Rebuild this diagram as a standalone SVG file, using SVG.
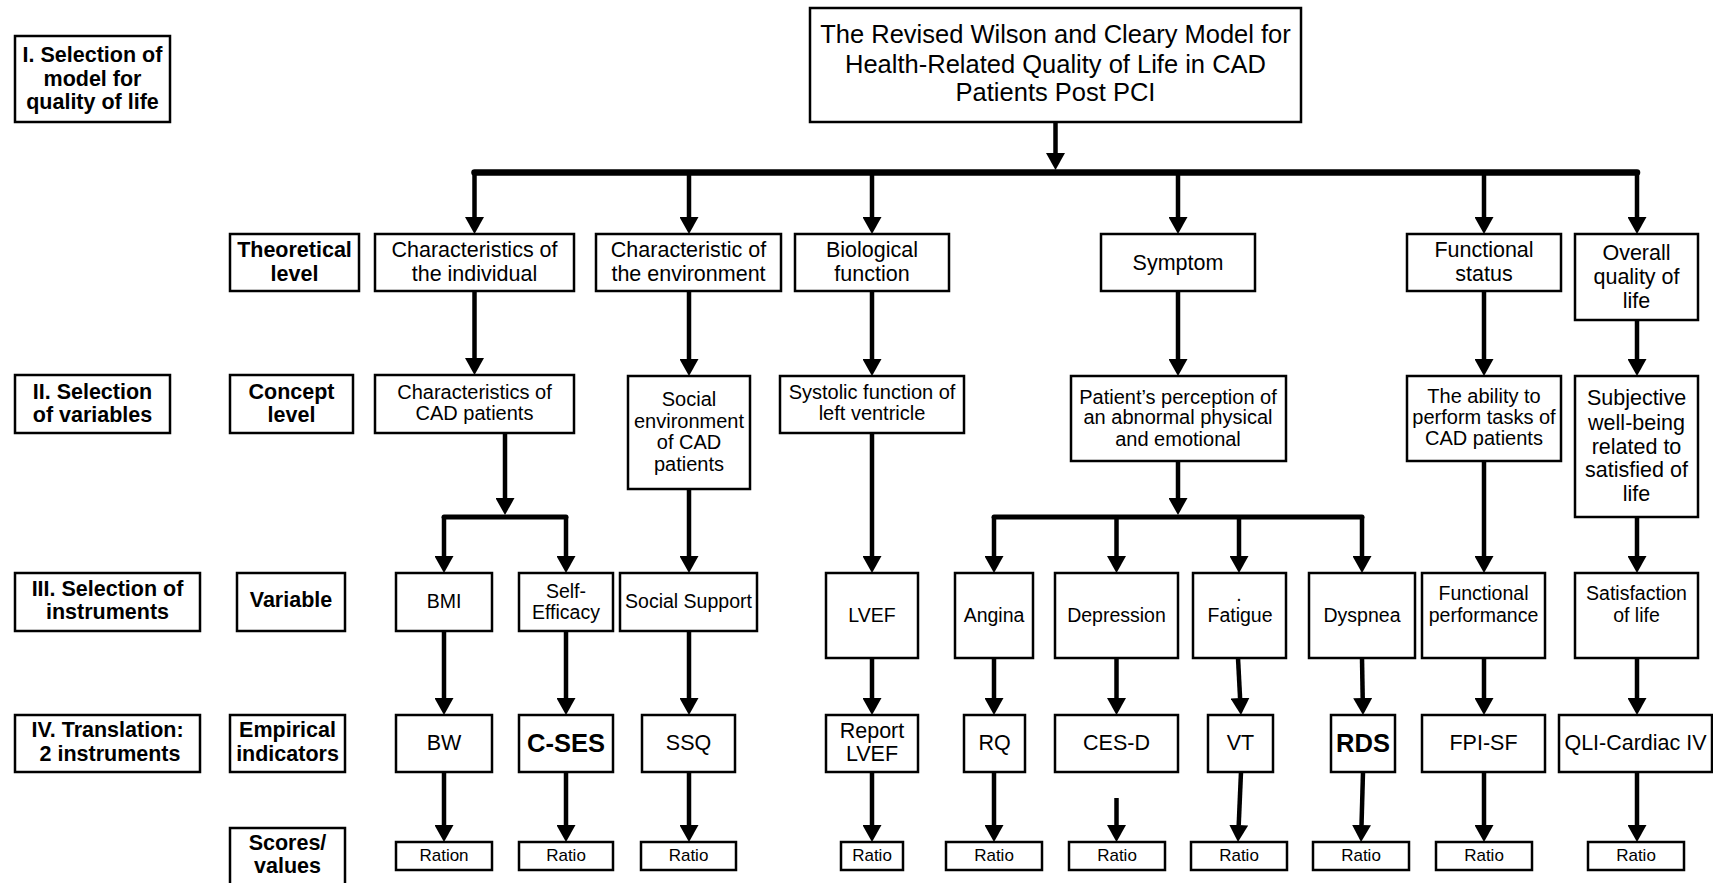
<svg xmlns="http://www.w3.org/2000/svg" width="1713" height="883" viewBox="0 0 1713 883">
  <style>
    .box { fill: #fff; stroke: #000; stroke-width: 2.5; }
    text { font-family: "Liberation Sans", Arial, sans-serif; fill: #000; text-anchor: middle; }
    .lab { font-weight: bold; font-size: 21.5px; }
    .t1 { font-size: 21.5px; }
    .t2 { font-size: 20px; }
    .t3 { font-size: 19.5px; }
    .t4 { font-size: 21.5px; }
    .t4b { font-size: 25.5px; font-weight: bold; }
    .t5 { font-size: 17px; }
    .title { font-size: 25.5px; }
    .arr { fill: none; stroke: #000; stroke-width: 4.5; marker-end: url(#ah); }
    .bar { fill: none; stroke: #000; stroke-width: 5; stroke-linecap: round; }
    .bus { fill: none; stroke: #000; stroke-width: 6.5; stroke-linecap: round; }
  </style>
  <defs>
    <marker id="ah" markerUnits="userSpaceOnUse" markerWidth="17" markerHeight="19" viewBox="0 0 17 19" refX="0.5" refY="9.5" orient="auto">
      <path d="M0,0 L17,9.5 L0,19 Z" fill="#000"/>
    </marker>
  </defs>

  <!-- Row labels -->
  <g id="label-model">
    <rect class="box" x="15" y="36" width="155" height="86"/>
    <text class="lab" x="92.5" y="62">I. Selection of</text>
    <text class="lab" x="92.5" y="85.5">model for</text>
    <text class="lab" x="92.5" y="109">quality of life</text>
  </g>
  <g id="label-theoretical">
    <rect class="box" x="230" y="234" width="129" height="57"/>
    <text class="lab" x="294.5" y="257">Theoretical</text>
    <text class="lab" x="294.5" y="281">level</text>
  </g>
  <g id="label-variables">
    <rect class="box" x="15" y="375" width="155" height="58"/>
    <text class="lab" x="92.5" y="398.5">II. Selection</text>
    <text class="lab" x="92.5" y="422">of variables</text>
  </g>
  <g id="label-concept">
    <rect class="box" x="230" y="375" width="123" height="58"/>
    <text class="lab" x="291.5" y="398.5">Concept</text>
    <text class="lab" x="291.5" y="422">level</text>
  </g>
  <g id="label-instruments">
    <rect class="box" x="15" y="573" width="185" height="58"/>
    <text class="lab" x="107.5" y="596">III. Selection of</text>
    <text class="lab" x="107.5" y="619">instruments</text>
  </g>
  <g id="label-variable">
    <rect class="box" x="237" y="573" width="108" height="58"/>
    <text class="lab" x="291" y="607">Variable</text>
  </g>
  <g id="label-translation">
    <rect class="box" x="15" y="715" width="185" height="57"/>
    <text class="lab" x="107.5" y="737">IV. Translation:</text>
    <text class="lab" x="110" y="761">2 instruments</text>
  </g>
  <g id="label-empirical">
    <rect class="box" x="230" y="715" width="115" height="57"/>
    <text class="lab" x="287.5" y="737">Empirical</text>
    <text class="lab" x="287.5" y="761">indicators</text>
  </g>
  <g id="label-scores">
    <rect class="box" x="230" y="828" width="115" height="64"/>
    <text class="lab" x="287.5" y="850">Scores/</text>
    <text class="lab" x="287.5" y="873">values</text>
  </g>

  <!-- Model -->
  <g id="model">
    <rect class="box" x="810" y="8" width="491" height="114"/>
    <text class="title" x="1055.5" y="43">The Revised Wilson and Cleary Model for</text>
    <text class="title" x="1055.5" y="72.5">Health-Related Quality of Life in CAD</text>
    <text class="title" x="1055.5" y="101">Patients Post PCI</text>
  </g>

  <!-- Theoretical level -->
  <g id="individual">
    <rect class="box" x="375" y="234" width="199" height="57"/>
    <text class="t1" x="474.5" y="257">Characteristics of</text>
    <text class="t1" x="474.5" y="281">the individual</text>
  </g>
  <g id="environment">
    <rect class="box" x="596" y="234" width="185" height="57"/>
    <text class="t1" x="688.5" y="257">Characteristic of</text>
    <text class="t1" x="688.5" y="281">the environment</text>
  </g>
  <g id="biological">
    <rect class="box" x="795" y="234" width="154" height="57"/>
    <text class="t1" x="872" y="257">Biological</text>
    <text class="t1" x="872" y="281">function</text>
  </g>
  <g id="symptom">
    <rect class="box" x="1101" y="234" width="154" height="57"/>
    <text class="t1" x="1178" y="270">Symptom</text>
  </g>
  <g id="functional">
    <rect class="box" x="1407" y="234" width="154" height="57"/>
    <text class="t1" x="1484" y="257">Functional</text>
    <text class="t1" x="1484" y="281">status</text>
  </g>
  <g id="overall">
    <rect class="box" x="1575" y="234" width="123" height="86"/>
    <text class="t1" x="1636.5" y="260">Overall</text>
    <text class="t1" x="1636.5" y="284">quality of</text>
    <text class="t1" x="1636.5" y="308">life</text>
  </g>

  <!-- Concept level -->
  <g id="cad-characteristics">
    <rect class="box" x="375" y="375" width="199" height="58"/>
    <text class="t2" x="474.5" y="399">Characteristics of</text>
    <text class="t2" x="474.5" y="420">CAD patients</text>
  </g>
  <g id="social-environment">
    <rect class="box" x="628" y="376" width="122" height="113"/>
    <text class="t2" x="689" y="406">Social</text>
    <text class="t2" x="689" y="428">environment</text>
    <text class="t2" x="689" y="449">of CAD</text>
    <text class="t2" x="689" y="471">patients</text>
  </g>
  <g id="systolic">
    <rect class="box" x="780" y="376" width="184" height="57"/>
    <text class="t2" x="872" y="399">Systolic function of</text>
    <text class="t2" x="872" y="420">left ventricle</text>
  </g>
  <g id="perception">
    <rect class="box" x="1071" y="376" width="215" height="85"/>
    <text class="t2" x="1178" y="404">Patient’s perception of</text>
    <text class="t2" x="1178" y="424">an abnormal physical</text>
    <text class="t2" x="1178" y="446">and emotional</text>
  </g>
  <g id="ability">
    <rect class="box" x="1407" y="376" width="154" height="85"/>
    <text class="t2" x="1484" y="403">The ability to</text>
    <text class="t2" x="1484" y="424">perform tasks of</text>
    <text class="t2" x="1484" y="445">CAD patients</text>
  </g>
  <g id="subjective">
    <rect class="box" x="1575" y="376" width="123" height="141"/>
    <text class="t1" x="1636.5" y="405">Subjective</text>
    <text class="t1" x="1636.5" y="430">well-being</text>
    <text class="t1" x="1636.5" y="454">related to</text>
    <text class="t1" x="1636.5" y="477">satisfied of</text>
    <text class="t1" x="1636.5" y="501">life</text>
  </g>

  <!-- Variables -->
  <g id="bmi">
    <rect class="box" x="396" y="573" width="96" height="58"/>
    <text class="t3" x="444" y="608">BMI</text>
  </g>
  <g id="self-efficacy">
    <rect class="box" x="519" y="573" width="94" height="58"/>
    <text class="t3" x="566" y="598">Self-</text>
    <text class="t3" x="566" y="619">Efficacy</text>
  </g>
  <g id="social-support">
    <rect class="box" x="620" y="573" width="137" height="58"/>
    <text class="t3" x="688.5" y="608">Social Support</text>
  </g>
  <g id="lvef">
    <rect class="box" x="826" y="573" width="92" height="85"/>
    <text class="t3" x="872" y="622">LVEF</text>
  </g>
  <g id="angina">
    <rect class="box" x="955" y="573" width="78" height="85"/>
    <text class="t3" x="994" y="622">Angina</text>
  </g>
  <g id="depression">
    <rect class="box" x="1055" y="573" width="123" height="85"/>
    <text class="t3" x="1116.5" y="622">Depression</text>
  </g>
  <g id="fatigue">
    <rect class="box" x="1193" y="573" width="93" height="85"/>
    <text class="t3" x="1239" y="601">.</text>
    <text class="t3" x="1240" y="622">Fatigue</text>
  </g>
  <g id="dyspnea">
    <rect class="box" x="1309" y="573" width="106" height="85"/>
    <text class="t3" x="1362" y="622">Dyspnea</text>
  </g>
  <g id="functional-performance">
    <rect class="box" x="1422" y="573" width="123" height="85"/>
    <text class="t3" x="1483.5" y="600">Functional</text>
    <text class="t3" x="1483.5" y="622">performance</text>
  </g>
  <g id="satisfaction">
    <rect class="box" x="1575" y="573" width="123" height="85"/>
    <text class="t3" x="1636.5" y="600">Satisfaction</text>
    <text class="t3" x="1636.5" y="622">of life</text>
  </g>

  <!-- Empirical indicators -->
  <g id="bw">
    <rect class="box" x="396" y="715" width="96" height="57"/>
    <text class="t4" x="444" y="750">BW</text>
  </g>
  <g id="c-ses">
    <rect class="box" x="519" y="715" width="94" height="57"/>
    <text class="t4b" x="566" y="752">C-SES</text>
  </g>
  <g id="ssq">
    <rect class="box" x="642" y="715" width="93" height="57"/>
    <text class="t4" x="688.5" y="750">SSQ</text>
  </g>
  <g id="report-lvef">
    <rect class="box" x="826" y="715" width="92" height="57"/>
    <text class="t4" x="872" y="738">Report</text>
    <text class="t4" x="872" y="761">LVEF</text>
  </g>
  <g id="rq">
    <rect class="box" x="964" y="715" width="61" height="57"/>
    <text class="t4" x="994.5" y="750">RQ</text>
  </g>
  <g id="ces-d">
    <rect class="box" x="1055" y="715" width="123" height="57"/>
    <text class="t4" x="1116.5" y="750">CES-D</text>
  </g>
  <g id="vt">
    <rect class="box" x="1208" y="715" width="65" height="57"/>
    <text class="t4" x="1240.5" y="750">VT</text>
  </g>
  <g id="rds">
    <rect class="box" x="1331" y="715" width="64" height="57"/>
    <text class="t4b" x="1363" y="752">RDS</text>
  </g>
  <g id="fpi-sf">
    <rect class="box" x="1422" y="715" width="123" height="57"/>
    <text class="t4" x="1483.5" y="750">FPI-SF</text>
  </g>
  <g id="qli-cardiac">
    <rect class="box" x="1559" y="715" width="153" height="57"/>
    <text class="t4" x="1635.5" y="750">QLI-Cardiac IV</text>
  </g>

  <!-- Scores / values -->
  <g id="score-bw">
    <rect class="box" x="396" y="842" width="96" height="28"/>
    <text class="t5" x="444" y="861">Ration</text>
  </g>
  <g id="score-c-ses">
    <rect class="box" x="519" y="842" width="94" height="28"/>
    <text class="t5" x="566" y="861">Ratio</text>
  </g>
  <g id="score-ssq">
    <rect class="box" x="641" y="842" width="95" height="28"/>
    <text class="t5" x="688.5" y="861">Ratio</text>
  </g>
  <g id="score-lvef">
    <rect class="box" x="841" y="842" width="62" height="28"/>
    <text class="t5" x="872" y="861">Ratio</text>
  </g>
  <g id="score-rq">
    <rect class="box" x="946" y="842" width="96" height="28"/>
    <text class="t5" x="994" y="861">Ratio</text>
  </g>
  <g id="score-ces-d">
    <rect class="box" x="1069" y="842" width="96" height="28"/>
    <text class="t5" x="1117" y="861">Ratio</text>
  </g>
  <g id="score-vt">
    <rect class="box" x="1191" y="842" width="96" height="28"/>
    <text class="t5" x="1239" y="861">Ratio</text>
  </g>
  <g id="score-rds">
    <rect class="box" x="1313" y="842" width="96" height="28"/>
    <text class="t5" x="1361" y="861">Ratio</text>
  </g>
  <g id="score-fpi-sf">
    <rect class="box" x="1436" y="842" width="96" height="28"/>
    <text class="t5" x="1484" y="861">Ratio</text>
  </g>
  <g id="score-qli">
    <rect class="box" x="1588" y="842" width="96" height="28"/>
    <text class="t5" x="1636" y="861">Ratio</text>
  </g>

  <!-- Connectors -->
  <g id="connectors">
    <!-- model to distribution bus -->
    <path class="arr" d="M1055.5,122 V153.5"/>
    <path class="bus" d="M474.5,172.5 H1637"/>
    <path class="arr" d="M474.5,172.5 V217.5"/>
    <path class="arr" d="M689,172.5 V217.5"/>
    <path class="arr" d="M872,172.5 V217.5"/>
    <path class="arr" d="M1178,172.5 V217.5"/>
    <path class="arr" d="M1484,172.5 V217.5"/>
    <path class="arr" d="M1637,172.5 V217.5"/>

    <!-- theoretical to concept level -->
    <path class="arr" d="M474.5,291 V358.5"/>
    <path class="arr" d="M689,291 V359.5"/>
    <path class="arr" d="M872,291 V359.5"/>
    <path class="arr" d="M1178,291 V359.5"/>
    <path class="arr" d="M1484,291 V359.5"/>
    <path class="arr" d="M1637,320 V359.5"/>

    <!-- concept level to variables -->
    <path class="arr" d="M505,433 V498.5"/>
    <path class="bar" d="M444,517 H566"/>
    <path class="arr" d="M444,517 V556.5"/>
    <path class="arr" d="M566,517 V556.5"/>
    <path class="arr" d="M689,489 V556.5"/>
    <path class="arr" d="M872,433 V556.5"/>
    <path class="arr" d="M1178,461 V498.5"/>
    <path class="bar" d="M994,517 H1362"/>
    <path class="arr" d="M994,517 V556.5"/>
    <path class="arr" d="M1116.5,517 V556.5"/>
    <path class="arr" d="M1239,517 V556.5"/>
    <path class="arr" d="M1362,517 V556.5"/>
    <path class="arr" d="M1484,461 V556.5"/>
    <path class="arr" d="M1637,517 V556.5"/>

    <!-- variables to empirical indicators -->
    <path class="arr" d="M444,631 V698.5"/>
    <path class="arr" d="M566,631 V698.5"/>
    <path class="arr" d="M689,631 V698.5"/>
    <path class="arr" d="M872,658 V698.5"/>
    <path class="arr" d="M994,658 V698.5"/>
    <path class="arr" d="M1116.5,658 V698.5"/>
    <path class="arr" d="M1238,658 L1240.1,698.5"/>
    <path class="arr" d="M1362,658 L1362.7,698.5"/>
    <path class="arr" d="M1484,658 V698.5"/>
    <path class="arr" d="M1637,658 V698.5"/>

    <!-- empirical indicators to scores -->
    <path class="arr" d="M444,772 V825.5"/>
    <path class="arr" d="M566,772 V825.5"/>
    <path class="arr" d="M689,772 V825.5"/>
    <path class="arr" d="M872,772 V825.5"/>
    <path class="arr" d="M994,772 V825.5"/>
    <path class="arr" d="M1116.5,798 V825.5"/>
    <path class="arr" d="M1241,772 L1238.7,825.5"/>
    <path class="arr" d="M1363,772 L1361.5,825.5"/>
    <path class="arr" d="M1484,772 V825.5"/>
    <path class="arr" d="M1637,772 V825.5"/>
  </g>
</svg>
